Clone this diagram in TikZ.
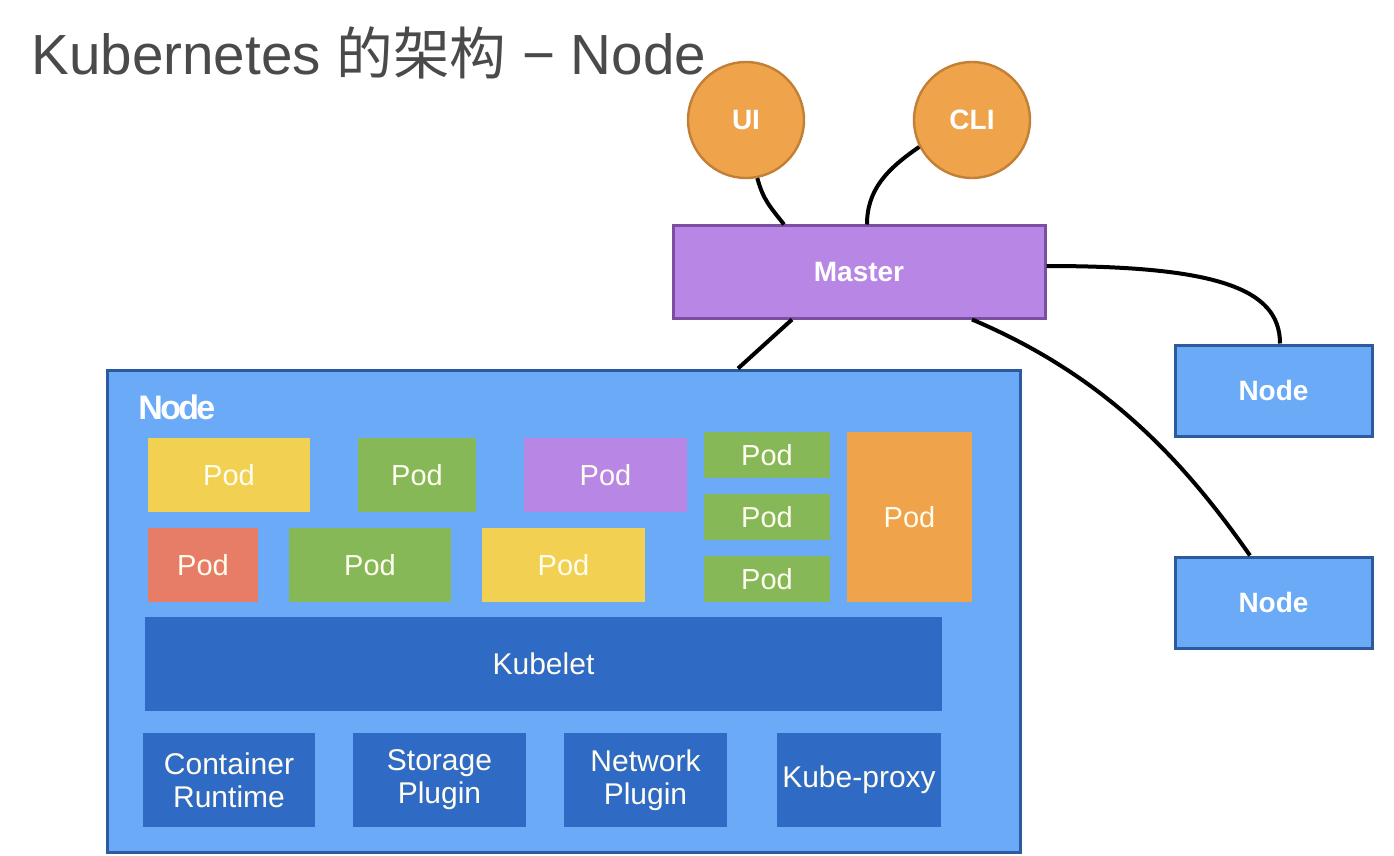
\documentclass[tikz,border=0pt]{standalone}
\usepackage{fontspec}
\setmainfont{Liberation Sans}
\newfontfamily\cjk{Noto Sans CJK SC}
\newfontfamily\tightsans[LetterSpace=-8]{Liberation Sans}
\definecolor{titlegray}{HTML}{4A4A4A}
\definecolor{orangefill}{HTML}{EFA34B}
\definecolor{orangeline}{HTML}{C27F35}
\definecolor{masterfill}{HTML}{B886E4}
\definecolor{masterline}{HTML}{7B4FA0}
\definecolor{nodefill}{HTML}{6AAAF6}
\definecolor{nodeline}{HTML}{2B5B9C}
\definecolor{podyellow}{HTML}{F2D052}
\definecolor{podgreen}{HTML}{86B857}
\definecolor{podpurple}{HTML}{B886E4}
\definecolor{podred}{HTML}{E87D67}
\definecolor{podorange}{HTML}{EFA34B}
\definecolor{darkblue}{HTML}{2F6BC5}
\definecolor{textwhite}{HTML}{FFFDF0}
\tikzset{
  boxbase/.style={rectangle, inner sep=0pt, text=textwhite, align=center},
  pod/.style={boxbase, fill=#1, font=\fontsize{14.5}{17}\selectfont},
  comp/.style={boxbase, fill=darkblue, font=\fontsize{15}{16.5}\selectfont},
  circ/.style={circle, fill=orangefill, draw=orangeline, line width=1.2pt, minimum size=58pt, inner sep=0pt, text=white, font=\bfseries\fontsize{14}{16}\selectfont},
  master/.style={boxbase, fill=masterfill, draw=masterline, line width=1.5pt, text=white, font=\bfseries\fontsize{14}{16}\selectfont},
  worker/.style={boxbase, fill=nodefill, draw=nodeline, line width=1.5pt, text=white, font=\bfseries\fontsize{14}{16}\selectfont},
  link/.style={draw=black, line width=2pt},
}
\begin{document}
\begin{tikzpicture}[x=0.5pt, y=-0.5pt]
\useasboundingbox (0,0) rectangle (1394,856);
% title
\node[anchor=base west, inner sep=0pt, text=titlegray, font=\fontsize{28.3}{34}\selectfont] (title) at (31,75) {Kubernetes {\cjk 的架构} − Node};
% big node
\node[worker, minimum width=456.5pt, minimum height=241pt] (big) at (563.5,611) {};
\node[anchor=base west, inner sep=0pt, text=white, font=\tightsans\bfseries\fontsize{17}{19}\selectfont] (biglabel) at (138,419) {Node};
% pods
\node[pod=podyellow, minimum width=81pt, minimum height=37pt] (p1) at (229,475) {Pod};
\node[pod=podgreen, minimum width=59pt, minimum height=37pt] (p2) at (417,475) {Pod};
\node[pod=podpurple, minimum width=81.5pt, minimum height=37pt] (p3) at (605.5,475) {Pod};
\node[pod=podgreen, minimum width=63pt, minimum height=23pt] (p4) at (767,455) {Pod};
\node[pod=podgreen, minimum width=63pt, minimum height=23pt] (p5) at (767,517) {Pod};
\node[pod=podgreen, minimum width=63pt, minimum height=23pt] (p6) at (767,579) {Pod};
\node[pod=podorange, minimum width=62.5pt, minimum height=85pt] (p7) at (909.5,517) {Pod};
\node[pod=podred, minimum width=55pt, minimum height=37pt] (p8) at (203,565) {Pod};
\node[pod=podgreen, minimum width=81pt, minimum height=37pt] (p9) at (370,565) {Pod};
\node[pod=podyellow, minimum width=81.5pt, minimum height=37pt] (p10) at (563.5,565) {Pod};
% kubelet and components
\node[comp, minimum width=398.5pt, minimum height=47pt] (kubelet) at (543.5,664) {Kubelet};
\node[comp, minimum width=86pt, minimum height=47pt] (cr) at (229,780) {Container\\Runtime};
\node[comp, minimum width=86.5pt, minimum height=47pt] (sp) at (439.5,780) {Storage\\Plugin};
\node[comp, minimum width=81.5pt, minimum height=47pt] (np) at (645.5,780) {Network\\Plugin};
\node[comp, minimum width=82pt, minimum height=47pt] (kp) at (859,780) {Kube-proxy};
% master, clients, other nodes
\node[master, minimum width=186pt, minimum height=46pt] (master) at (859,272) {Master};
\node[circ] (ui) at (746,120) {UI};
\node[circ] (cli) at (972,120) {CLI};
\node[worker, minimum width=98.5pt, minimum height=45.5pt] (n1) at (1273.5,390.5) {Node};
\node[worker, minimum width=98.5pt, minimum height=45.5pt] (n2) at (1273.5,602.5) {Node};
% connectors
\draw[link] (ui.281) .. controls +(6,22) and +(-14,-18) .. ([xshift=-37.5pt]master.north);
\draw[link] (cli.207) .. controls +(-32,22) and +(0,-35) .. ([xshift=4pt]master.north);
\draw[link] ([xshift=-33.5pt]master.south) -- ([xshift=87.25pt]big.north);
\draw[link] ([yshift=3pt]master.east) .. controls +(170,0) and +(0,-55) .. ([xshift=3.25pt]n1.north);
\draw[link] ([xshift=56.5pt]master.south) .. controls +(130,55) and +(-70,-100) .. ([xshift=-11.75pt]n2.north);
\end{tikzpicture}
\end{document}
